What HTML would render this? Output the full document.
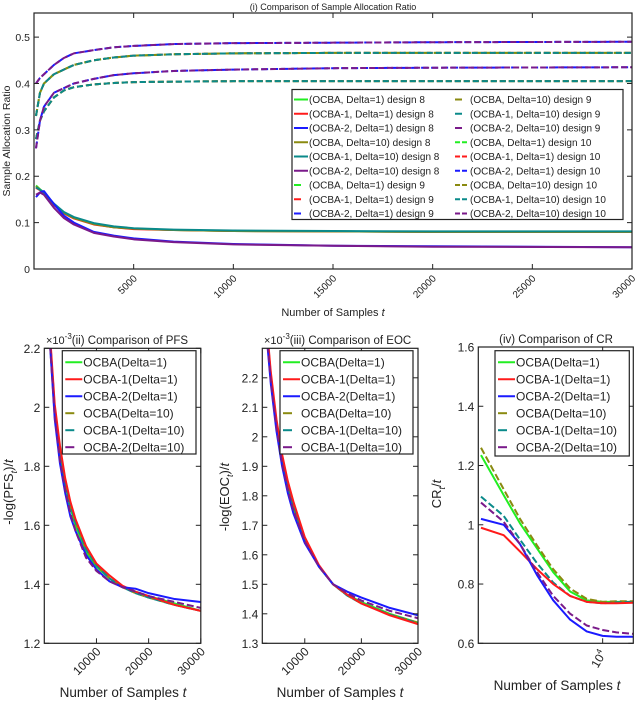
<!DOCTYPE html>
<html><head><meta charset="utf-8">
<style>
html,body{margin:0;padding:0;background:#fff;}
svg{display:block;font-family:"Liberation Sans",Arial,sans-serif;}
</style></head>
<body>
<svg id="fig" width="640" height="704" viewBox="0 0 640 704" xmlns="http://www.w3.org/2000/svg">
<defs>
<clipPath id="c1"><rect x="34" y="13" width="598" height="256"/></clipPath>
<clipPath id="c2"><rect x="44.3" y="348.3" width="156.5" height="295"/></clipPath>
<clipPath id="c3"><rect x="262.3" y="348.3" width="155.7" height="295"/></clipPath>
<clipPath id="c4"><rect x="478.3" y="347" width="155" height="296.3"/></clipPath>
</defs>
</svg>
<script>
// ---------- Panel (i) data ----------
const tA = [100,300,500,1000,1500,2000,3000,4000,5000,7000,10000,15000,20000,30000];
const d8_ocba   = [0.180,0.172,0.165,0.140,0.121,0.110,0.097,0.090,0.087,0.084,0.082,0.081,0.080,0.080];
const d8_ocba1  = [0.175,0.170,0.163,0.138,0.120,0.109,0.096,0.090,0.086,0.084,0.082,0.081,0.080,0.080];
const d8_ocba2  = [0.155,0.165,0.168,0.140,0.115,0.100,0.080,0.072,0.066,0.059,0.054,0.050,0.049,0.047];
const d8_ocbaD  = [0.178,0.171,0.164,0.139,0.121,0.110,0.097,0.090,0.087,0.084,0.082,0.081,0.080,0.080];
const d8_ocba1D = [0.176,0.171,0.165,0.141,0.123,0.112,0.099,0.092,0.088,0.085,0.083,0.082,0.081,0.081];
const d8_ocba2D = [0.160,0.165,0.160,0.132,0.110,0.096,0.078,0.070,0.064,0.058,0.053,0.050,0.048,0.047];
const d9_ocba   = [0.330,0.380,0.400,0.420,0.430,0.440,0.450,0.456,0.460,0.463,0.465,0.466,0.466,0.466];
const d9_ocba2  = [0.400,0.412,0.420,0.440,0.455,0.465,0.472,0.478,0.481,0.485,0.487,0.488,0.489,0.490];
const d10_ocba  = [0.280,0.320,0.340,0.370,0.385,0.392,0.398,0.401,0.403,0.404,0.405,0.405,0.405,0.405];
const d10_ocba2 = [0.260,0.320,0.350,0.380,0.390,0.400,0.410,0.418,0.422,0.427,0.430,0.433,0.434,0.435];
const yTicksA = [0,0.1,0.2,0.3,0.4,0.5];
const xTicksA = [5000,10000,15000,20000,25000,30000];

// ---------- Panel (ii) data ----------
const tB = [1000,2000,3000,4000,5000,6000,8000,10000,12500,15000,17500,20000,25000,30000];
const pfs_ocba   = [2.25,1.98,1.84,1.74,1.66,1.60,1.51,1.46,1.42,1.39,1.375,1.36,1.335,1.31];
const pfs_ocba1  = [2.27,2.01,1.87,1.76,1.68,1.62,1.53,1.47,1.43,1.395,1.375,1.36,1.33,1.31];
const pfs_ocba2  = [2.24,1.96,1.81,1.71,1.63,1.58,1.50,1.45,1.41,1.39,1.385,1.37,1.35,1.34];
const pfs_ocbaD  = [2.25,1.99,1.85,1.75,1.67,1.61,1.52,1.465,1.42,1.39,1.37,1.355,1.33,1.31];
const pfs_ocba1D = [2.26,2.00,1.86,1.75,1.67,1.61,1.52,1.465,1.42,1.39,1.37,1.355,1.33,1.31];
const pfs_ocba2D = [2.24,1.97,1.82,1.72,1.64,1.58,1.49,1.445,1.41,1.39,1.375,1.36,1.34,1.32];
const yTicksB = [1.2,1.4,1.6,1.8,2.0,2.2];
const yTickLabB = ["1.2","1.4","1.6","1.8","2","2.2"];
const xTicksB = [10000,20000,30000];

// ---------- Panel (iii) data ----------
const tC = [3000,4000,5000,6000,7000,8000,10000,12500,15000,17500,20000,25000,30000];
const eoc_ocba   = [2.42,2.20,2.04,1.92,1.83,1.76,1.65,1.56,1.50,1.465,1.44,1.40,1.37];
const eoc_ocba1  = [2.44,2.22,2.06,1.94,1.85,1.78,1.66,1.565,1.50,1.465,1.435,1.395,1.365];
const eoc_ocba2  = [2.40,2.18,2.02,1.90,1.81,1.74,1.64,1.56,1.50,1.475,1.455,1.42,1.395];
const eoc_ocbaD  = [2.42,2.20,2.04,1.92,1.83,1.76,1.65,1.56,1.50,1.462,1.435,1.398,1.37];
const eoc_ocba1D = [2.43,2.21,2.05,1.93,1.84,1.77,1.655,1.562,1.50,1.462,1.435,1.397,1.368];
const eoc_ocba2D = [2.41,2.19,2.03,1.91,1.82,1.75,1.645,1.56,1.50,1.47,1.445,1.41,1.385];
const yTicksC = [1.3,1.4,1.5,1.6,1.7,1.8,1.9,2.0,2.1,2.2];
const yTickLabC = ["1.3","1.4","1.5","1.6","1.7","1.8","1.9","2","2.1","2.2"];
const xTicksC = [10000,20000,30000];

// ---------- Panel (iv) data ----------
const tD = [2000,2700,3350,4200,5200,6500,8100,10000,12000,15000];
const cr_ocba   = [1.235,1.10,1.005,0.92,0.84,0.775,0.745,0.74,0.74,0.74];
const cr_ocba1  = [0.99,0.965,0.91,0.85,0.80,0.76,0.74,0.735,0.735,0.737];
const cr_ocba2  = [1.02,1.00,0.935,0.83,0.745,0.68,0.64,0.625,0.622,0.622];
const cr_ocbaD  = [1.26,1.12,1.02,0.93,0.85,0.785,0.75,0.74,0.742,0.742];
const cr_ocba1D = [1.095,1.03,0.95,0.87,0.805,0.76,0.74,0.735,0.738,0.74];
const cr_ocba2D = [1.075,1.01,0.935,0.84,0.76,0.70,0.66,0.645,0.637,0.632];
const yTicksD = [0.6,0.8,1.0,1.2,1.4,1.6];
const yTickLabD = ["0.6","0.8","1","1.2","1.4","1.6"];

const COL = {g:"#22ee22", r:"#ff1a1a", b:"#1a1aff", o:"#8a8a10", t:"#0a8a8a", p:"#7a1a8a"};
const NS = "http://www.w3.org/2000/svg";
const svg = document.getElementById('fig');
function mk(tag, attrs, parent){ const e=document.createElementNS(NS,tag); for(const k in attrs) e.setAttribute(k,attrs[k]); (parent||svg).appendChild(e); return e; }
function txt(s, x, y, size, anchor, parent, rot){ const e=mk('text',{x:x,y:y,'font-size':size,'text-anchor':anchor||'start',fill:'#222'},parent); if(rot!==undefined) e.setAttribute('transform','rotate('+rot+' '+x+' '+y+')'); e.textContent=s; return e; }

function makeAxes(o){
  const sx = o.log ? v => o.x0 + (Math.log10(v)-Math.log10(o.xmin))/(Math.log10(o.xmax)-Math.log10(o.xmin))*(o.x1-o.x0)
                   : v => o.x0 + (v-o.xmin)/(o.xmax-o.xmin)*(o.x1-o.x0);
  const sy = v => o.y1 - (v-o.ymin)/(o.ymax-o.ymin)*(o.y1-o.y0);
  return {sx, sy};
}
function drawSeries(g, ax, ts, vals, color, dashed, clip, name){
  let d = '';
  ts.forEach((t,i)=>{ d += (i?'L':'M') + ax.sx(t).toFixed(2) + ',' + ax.sy(vals[i]).toFixed(2); });
  const p = mk('path',{d:d,fill:'none',stroke:color,'stroke-width':2,'clip-path':'url(#'+clip+')','stroke-linejoin':'round'},g);
  if(dashed) p.setAttribute('stroke-dasharray', dashed);
  
  
}
function frame(g, o){
  const r = mk('rect',{x:o.x0,y:o.y0,width:o.x1-o.x0,height:o.y1-o.y0,fill:'none',stroke:'#222','stroke-width':1.2},g);
  
  
}
function legend(g, x, y, w, h, rows, fs, rowH, lineLen, name){
  const lg = mk('g',{},g);
  
  
  mk('rect',{x:x,y:y,width:w,height:h,fill:'#fff',stroke:'#222','stroke-width':1.2},lg);
  rows.forEach(r=>{
    const e = mk('g',{},lg);
    
    
    const ln = mk('line',{x1:r.x,y1:r.y,x2:r.x+lineLen,y2:r.y,stroke:r.c,'stroke-width':2},e);
    if(r.dash) ln.setAttribute('stroke-dasharray', r.dash);
    txt(r.s, r.x+lineLen+1, r.y+fs*0.36, fs, 'start', e);
  });
}

// ================= Panel (i) =================
(function(){
  const o = {x0:34,x1:632,y0:13,y1:269,xmin:0,xmax:30000,ymin:0,ymax:0.552};
  const ax = makeAxes(o);
  const g = mk('g',{});
  
  
  const D1 = "7,3", D2 = "6,3";
  drawSeries(g,ax,tA,d10_ocba,COL.g,D2,'c1','d10-ocba-d1');
  drawSeries(g,ax,tA,d10_ocba,COL.r,D2,'c1','d10-ocba1-d1');
  drawSeries(g,ax,tA,d10_ocba,COL.o,D2,'c1','d10-ocba-d10');
  drawSeries(g,ax,tA,d10_ocba,COL.t,D2,'c1','d10-ocba1-d10');
  drawSeries(g,ax,tA,d10_ocba2,COL.b,D1,'c1','d10-ocba2-d1');
  drawSeries(g,ax,tA,d10_ocba2,COL.p,D2,'c1','d10-ocba2-d10');
  drawSeries(g,ax,tA,d9_ocba,COL.g,D1,'c1','d9-ocba-d1');
  drawSeries(g,ax,tA,d9_ocba,COL.r,D2,'c1','d9-ocba1-d1');
  drawSeries(g,ax,tA,d9_ocba,COL.o,D1,'c1','d9-ocba-d10');
  drawSeries(g,ax,tA,d9_ocba,COL.t,D2,'c1','d9-ocba1-d10');
  drawSeries(g,ax,tA,d9_ocba2,COL.b,D1,'c1','d9-ocba2-d1');
  drawSeries(g,ax,tA,d9_ocba2,COL.p,D2,'c1','d9-ocba2-d10');
  drawSeries(g,ax,tA,d8_ocba,COL.g,null,'c1','d8-ocba-d1');
  drawSeries(g,ax,tA,d8_ocba1,COL.r,null,'c1','d8-ocba1-d1');
  drawSeries(g,ax,tA,d8_ocbaD,COL.o,null,'c1','d8-ocba-d10');
  drawSeries(g,ax,tA,d8_ocba1D,COL.t,null,'c1','d8-ocba1-d10');
  drawSeries(g,ax,tA,d8_ocba2,COL.b,null,'c1','d8-ocba2-d1');
  drawSeries(g,ax,tA,d8_ocba2D,COL.p,null,'c1','d8-ocba2-d10');
  frame(g,o);
  yTicksA.forEach(v=>{
    const y = ax.sy(v);
    mk('line',{x1:o.x0,y1:y,x2:o.x0+5,y2:y,stroke:'#222'},g);
    mk('line',{x1:o.x1,y1:y,x2:o.x1-5,y2:y,stroke:'#222'},g);
    txt(String(v), o.x0-4, y+4, 10.5, 'end', g);
  });
  xTicksA.forEach(v=>{
    const x = ax.sx(v);
    mk('line',{x1:x,y1:o.y1,x2:x,y2:o.y1-5,stroke:'#222'},g);
    mk('line',{x1:x,y1:o.y0,x2:x,y2:o.y0+5,stroke:'#222'},g);
    txt(String(v), x+4, o.y1+10, 10, 'end', g, -45);
  });
  const tt = txt('(i) Comparison of Sample Allocation Ratio', 333, 10, 9, 'middle', g);
   
  const yl = txt('Sample Allocation Ratio', 10, 141, 10.5, 'middle', g, -90);
   
  const xl = mk('text',{x:333,y:316,'font-size':11,'text-anchor':'middle',fill:'#222'},g);
  xl.innerHTML = 'Number of Samples <tspan font-style="italic">t</tspan>';
   
  const rows = [];
  const c1 = [['(OCBA, Delta=1) design 8',COL.g,null],['(OCBA-1, Delta=1) design 8',COL.r,null],['(OCBA-2, Delta=1) design 8',COL.b,null],['(OCBA, Delta=10) design 8',COL.o,null],['(OCBA-1, Delta=10) design 8',COL.t,null],['(OCBA-2, Delta=10) design 8',COL.p,null],['(OCBA, Delta=1) design 9',COL.g,'7,20'],['(OCBA-1, Delta=1) design 9',COL.r,'7,20'],['(OCBA-2, Delta=1) design 9',COL.b,'7,20']];
  const c2 = [['(OCBA, Delta=10) design 9',COL.o,'7,20'],['(OCBA-1, Delta=10) design 9',COL.t,'7,20'],['(OCBA-2, Delta=10) design 9',COL.p,'7,20'],['(OCBA, Delta=1) design 10',COL.g,'5,2'],['(OCBA-1, Delta=1) design 10',COL.r,'5,2'],['(OCBA-2, Delta=1) design 10',COL.b,'5,2'],['(OCBA, Delta=10) design 10',COL.o,'5,2'],['(OCBA-1, Delta=10) design 10',COL.t,'5,2'],['(OCBA-2, Delta=10) design 10',COL.p,'5,2']];
  c1.forEach((r,i)=>rows.push({s:r[0],c:r[1],dash:r[2],x:294,y:99.5+i*14.25}));
  c2.forEach((r,i)=>rows.push({s:r[0],c:r[1],dash:r[2],x:455,y:99.5+i*14.25}));
  legend(g,292,89.5,331,130,rows,10,14.25,14,'legend-allocation');
})();

// ================= Bottom panels =================
function bottomPanel(cfg){
  const o = cfg.o;
  const ax = makeAxes(o);
  const g = mk('g',{});
  
  
  cfg.series.forEach(s=> drawSeries(g,ax,cfg.t,s[0],s[1],s[2],cfg.clip,s[3]));
  frame(g,o);
  cfg.yT.forEach((v,i)=>{
    const y = ax.sy(v);
    mk('line',{x1:o.x0,y1:y,x2:o.x0+5,y2:y,stroke:'#222'},g);
    mk('line',{x1:o.x1,y1:y,x2:o.x1-5,y2:y,stroke:'#222'},g);
    txt(cfg.yL[i], o.x0-4, y+4.5, 12, 'end', g);
  });
  cfg.xT.forEach((v,i)=>{
    const x = ax.sx(v);
    mk('line',{x1:x,y1:o.y1,x2:x,y2:o.y1-5,stroke:'#222'},g);
    mk('line',{x1:x,y1:o.y0,x2:x,y2:o.y0+5,stroke:'#222'},g);
    const lab = cfg.xL[i];
    if(typeof lab === 'object'){
      const e = mk('text',{x:x+4,y:o.y1+10,'font-size':12,'text-anchor':'end',fill:'#222',transform:'rotate(-60 '+(x+4)+' '+(o.y1+10)+')'},g);
      e.innerHTML = '10<tspan dy="-5" font-size="8">4</tspan>';
    } else txt(lab, x+5, o.y1+9, 12, 'end', g, -45);
  });
  const t = mk('text',{x:cfg.titleX,y:cfg.titleY,'font-size':11.5,'text-anchor':cfg.titleAnchor,fill:'#222'},g);
  t.innerHTML = cfg.title;
   
  const yl = mk('text',{x:cfg.ylX,y:cfg.ylY,'font-size':13,'text-anchor':'middle',fill:'#222',transform:'rotate(-90 '+cfg.ylX+' '+cfg.ylY+')'},g);
  yl.innerHTML = cfg.ylabel;
   
  const xl = mk('text',{x:cfg.xlX,y:cfg.xlY,'font-size':13.5,'text-anchor':'middle',fill:'#222'},g);
  xl.innerHTML = 'Number of Samples <tspan font-style="italic">t</tspan>';
   
  const names = cfg.legendNames;
  const cols = [COL.g,COL.r,COL.b,COL.o,COL.t,COL.p];
  const rows = names.map((s,i)=>({s:s,c:cols[i],dash:i<3?null:'9,20',x:cfg.leg[0]+3,y:cfg.leg[1]+11.5+i*17}));
  legend(g,cfg.leg[0],cfg.leg[1],cfg.leg[2],cfg.leg[3],rows,12,17,17,'legend-'+cfg.name);
}
const legNames = ['OCBA(Delta=1)','OCBA-1(Delta=1)','OCBA-2(Delta=1)','OCBA(Delta=10)','OCBA-1(Delta=10)','OCBA-2(Delta=10)'];
const DD = "7,3";
bottomPanel({name:'pfs-chart', o:{x0:44.3,x1:200.8,y0:348.3,y1:643.3,xmin:0,xmax:30000,ymin:1.2,ymax:2.2}, clip:'c2', t:tB,
  series:[[pfs_ocba,COL.g,null,'pfs-ocba-d1'],[pfs_ocbaD,COL.o,DD,'pfs-ocba-d10'],[pfs_ocba1D,COL.t,DD,'pfs-ocba1-d10'],[pfs_ocba1,COL.r,null,'pfs-ocba1-d1'],[pfs_ocba2,COL.b,null,'pfs-ocba2-d1'],[pfs_ocba2D,COL.p,DD,'pfs-ocba2-d10']],
  yT:yTicksB, yL:yTickLabB, xT:xTicksB, xL:['10000','20000','30000'],
  title:'<tspan font-size="11">×10</tspan><tspan dy="-5" font-size="8">-3</tspan><tspan dy="5">(ii) Comparison of PFS</tspan>', titleX:46, titleY:344, titleAnchor:'start',
  ylabel:'-log(PFS<tspan dy="4" font-size="9" font-style="italic">t</tspan><tspan dy="-4">)/</tspan><tspan font-style="italic">t</tspan>', ylX:13, ylY:492, xlX:123, xlY:697,
  legendNames:legNames, leg:[62.3,350.7,133.7,103.3]});
bottomPanel({name:'eoc-chart', o:{x0:262.3,x1:418,y0:348.3,y1:643.3,xmin:2500,xmax:30000,ymin:1.3,ymax:2.3}, clip:'c3', t:tC,
  series:[[eoc_ocba,COL.g,null,'eoc-ocba-d1'],[eoc_ocbaD,COL.o,DD,'eoc-ocba-d10'],[eoc_ocba1D,COL.t,DD,'eoc-ocba1-d10'],[eoc_ocba1,COL.r,null,'eoc-ocba1-d1'],[eoc_ocba2,COL.b,null,'eoc-ocba2-d1'],[eoc_ocba2D,COL.p,DD,'eoc-ocba2-d10']],
  yT:yTicksC, yL:yTickLabC, xT:xTicksC, xL:['10000','20000','30000'],
  title:'<tspan font-size="11">×10</tspan><tspan dy="-5" font-size="8">-3</tspan><tspan dy="5">(iii) Comparison of EOC</tspan>', titleX:264, titleY:344, titleAnchor:'start',
  ylabel:'-log(EOC<tspan dy="4" font-size="9" font-style="italic">t</tspan><tspan dy="-4">)/</tspan><tspan font-style="italic">t</tspan>', ylX:229, ylY:497, xlX:340, xlY:697,
  legendNames:['OCBA(Delta=1)','OCBA-1(Delta=1)','OCBA-2(Delta=1)','OCBA(Delta=10)','OCBA-1(Delta=10)','OCBA-1(Delta=10)'], leg:[280,350.7,133,103.3]});
bottomPanel({name:'cr-chart', o:{x0:478.3,x1:633.3,y0:347,y1:643.3,xmin:1930,xmax:15000,ymin:0.6,ymax:1.6,log:true}, clip:'c4', t:tD,
  series:[[cr_ocba,COL.g,null,'cr-ocba-d1'],[cr_ocbaD,COL.o,DD,'cr-ocba-d10'],[cr_ocba1D,COL.t,DD,'cr-ocba1-d10'],[cr_ocba1,COL.r,null,'cr-ocba1-d1'],[cr_ocba2,COL.b,null,'cr-ocba2-d1'],[cr_ocba2D,COL.p,DD,'cr-ocba2-d10']],
  yT:yTicksD, yL:yTickLabD, xT:[10000], xL:[{sup:true}],
  title:'(iv) Comparison of CR', titleX:556, titleY:343, titleAnchor:'middle',
  ylabel:'CR<tspan dy="4" font-size="9" font-style="italic">t</tspan><tspan dy="-4">/</tspan><tspan font-style="italic">t</tspan>', ylX:441, ylY:494, xlX:557, xlY:690,
  legendNames:legNames, leg:[495,350.7,134.3,105.3]});
</script>
</body></html>
